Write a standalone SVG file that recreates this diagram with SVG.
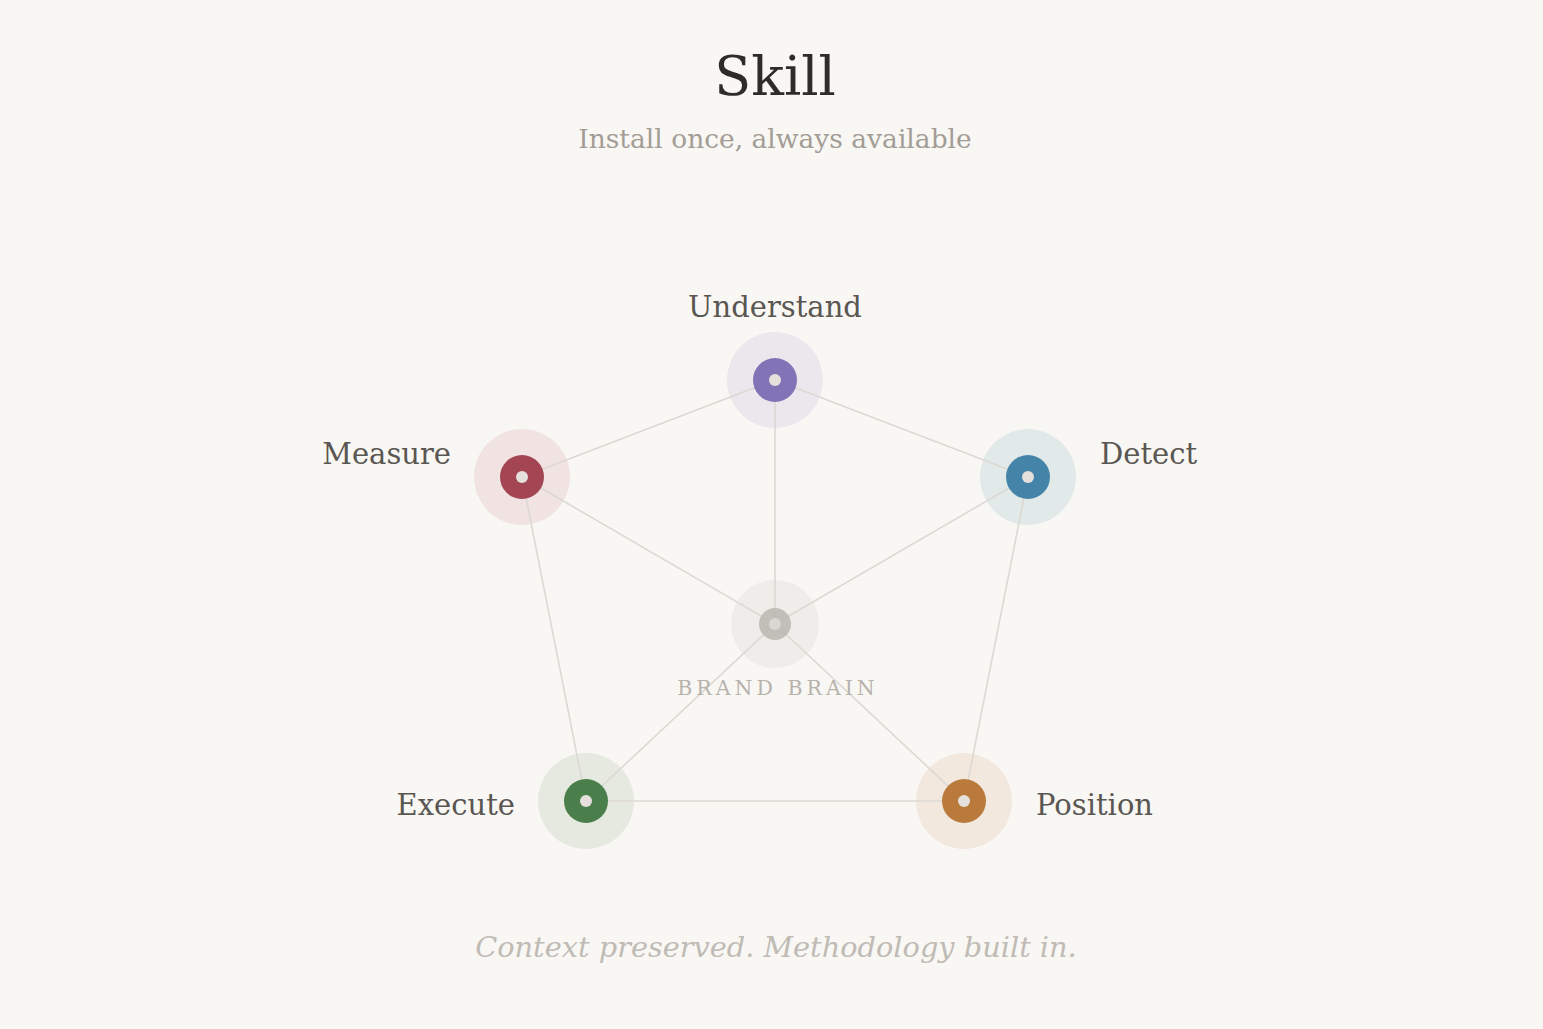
<svg xmlns="http://www.w3.org/2000/svg" width="1543" height="1029" viewBox="0 0 1543 1029">
<style>
.t{font-family:"DejaVu Serif","Liberation Serif",serif}
.lbl{font-size:29px;fill:#5a5652}
.edge{stroke:#dcd8d3;stroke-width:1.6;fill:none}
.inner{fill:#e6e0dc}
</style>
<rect width="1543" height="1029" fill="#f9f7f4"/>
<text class="t" x="775" y="95" text-anchor="middle" font-size="54" fill="#2e2c2a">Skill</text>
<text class="t" x="775" y="148" text-anchor="middle" font-size="26.5" fill="#a39d96">Install once, always available</text>
<g id="halos">
<circle cx="775" cy="380" r="48" fill="#ebe7ed"/>
<circle cx="522" cy="477" r="48" fill="#f1e3e2"/>
<circle cx="1028" cy="477" r="48" fill="#e2e9e9"/>
<circle cx="586" cy="801" r="48" fill="#e5e9e0"/>
<circle cx="964" cy="801" r="48" fill="#f3e8de"/>
<circle cx="775" cy="624" r="44" fill="#efedea"/>
</g>
<g id="connectors">
<line class="edge" x1="775" y1="380" x2="522" y2="477"/>
<line class="edge" x1="775" y1="380" x2="1028" y2="477"/>
<line class="edge" x1="775" y1="380" x2="775" y2="624"/>
<line class="edge" x1="522" y1="477" x2="775" y2="624"/>
<line class="edge" x1="1028" y1="477" x2="775" y2="624"/>
<line class="edge" x1="522" y1="477" x2="586" y2="801"/>
<line class="edge" x1="1028" y1="477" x2="964" y2="801"/>
<line class="edge" x1="586" y1="801" x2="964" y2="801"/>
<line class="edge" x1="586" y1="801" x2="775" y2="624"/>
<line class="edge" x1="964" y1="801" x2="775" y2="624"/>
</g>
<g id="node-understand">
<circle cx="775" cy="380" r="22" fill="#8173b6"/>
<circle class="inner" cx="775" cy="380" r="6"/>
<text class="t lbl" x="775" y="317" text-anchor="middle">Understand</text>
</g>
<g id="node-measure">
<circle cx="522" cy="477" r="22" fill="#a34552"/>
<circle class="inner" cx="522" cy="477" r="6"/>
<text class="t lbl" x="451" y="464" text-anchor="end">Measure</text>
</g>
<g id="node-detect">
<circle cx="1028" cy="477" r="22" fill="#4584a9"/>
<circle class="inner" cx="1028" cy="477" r="6"/>
<text class="t lbl" x="1100" y="464">Detect</text>
</g>
<g id="node-execute">
<circle cx="586" cy="801" r="22" fill="#4a7f4b"/>
<circle class="inner" cx="586" cy="801" r="6"/>
<text class="t lbl" x="515" y="815" text-anchor="end">Execute</text>
</g>
<g id="node-position">
<circle cx="964" cy="801" r="22" fill="#b97a3b"/>
<circle class="inner" cx="964" cy="801" r="6"/>
<text class="t lbl" x="1036" y="815">Position</text>
</g>
<g id="node-brand-brain">
<circle cx="775" cy="624" r="16" fill="#bcb9b4" fill-opacity="0.9"/>
<circle cx="775" cy="624" r="6" fill="#dad6d1"/>
<text class="t" x="778" y="695" text-anchor="middle" font-size="20.5" letter-spacing="4" fill="#b7b2ac">BRAND BRAIN</text>
</g>
<text class="t" x="776" y="957" text-anchor="middle" font-size="28.8" font-style="italic" fill="#c0bbb5">Context preserved. Methodology built in.</text>
</svg>
